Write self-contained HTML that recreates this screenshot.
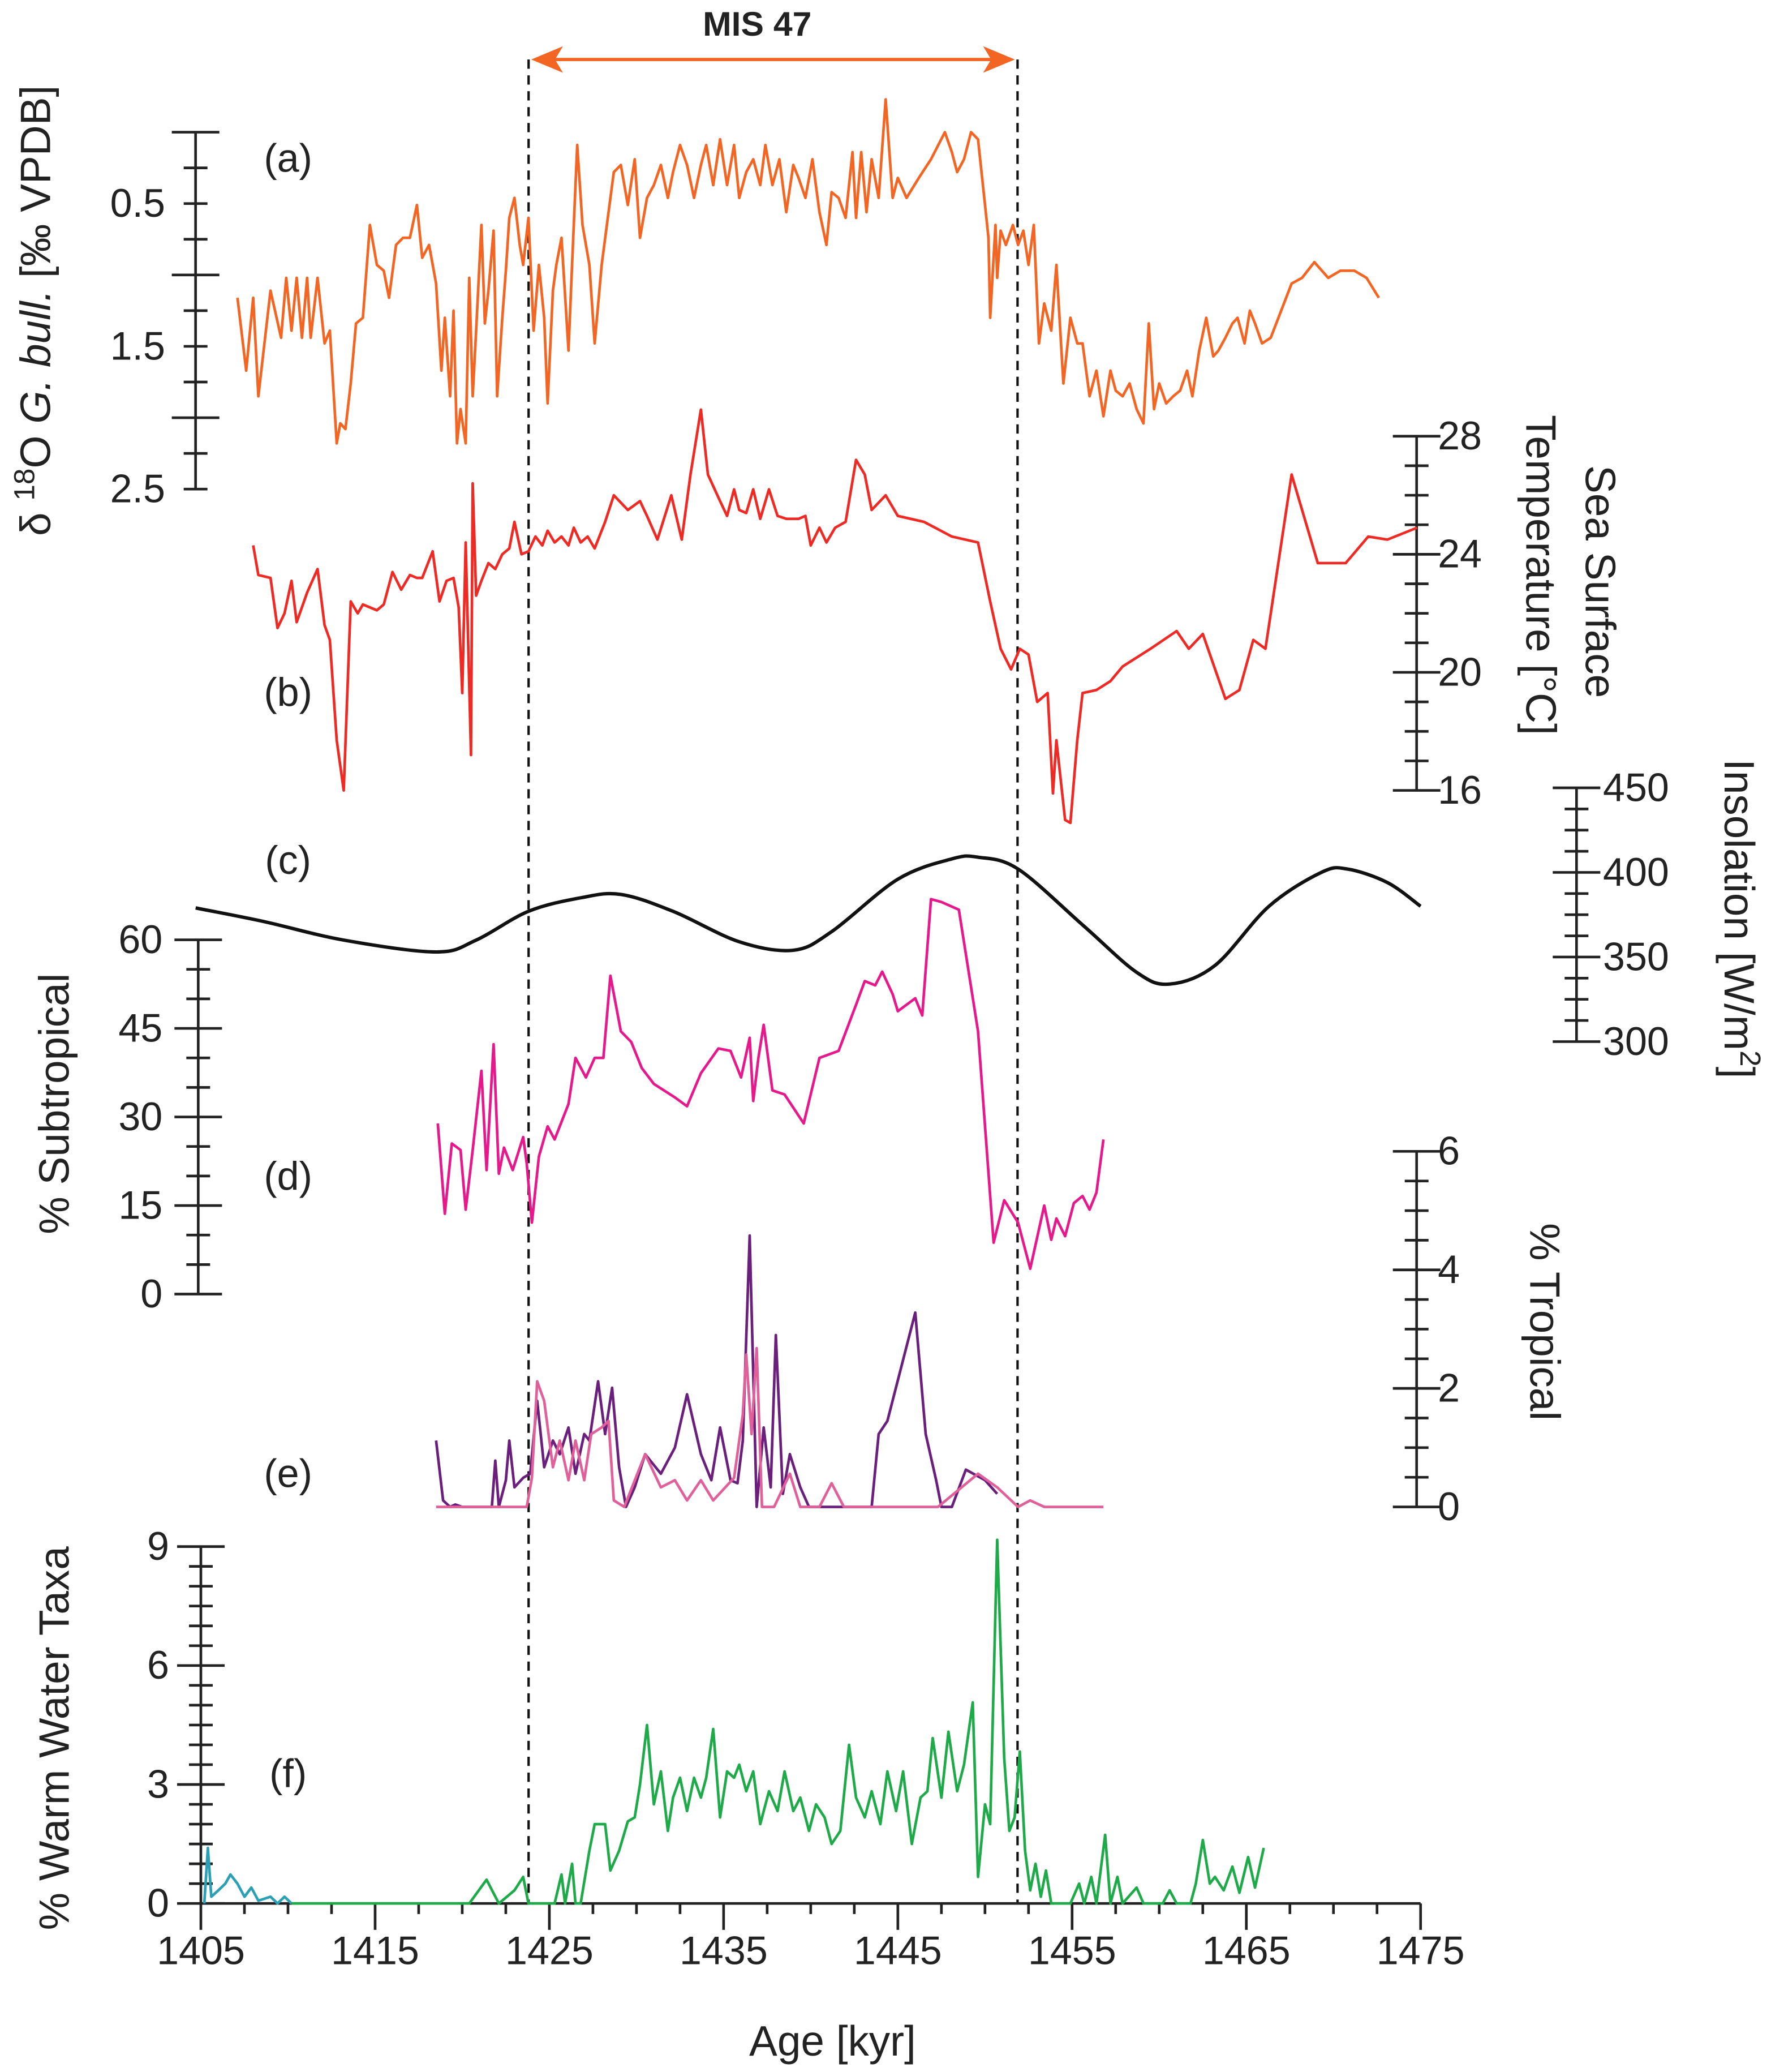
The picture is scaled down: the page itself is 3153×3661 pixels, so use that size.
<!DOCTYPE html>
<html><head><meta charset="utf-8"><style>
html,body{margin:0;padding:0;background:#fff}
svg{display:block}
text{font-family:"Liberation Sans",sans-serif;fill:#222}
</style></head><body>
<svg id="chart" width="3153" height="3661" viewBox="0 0 1350 1567.5" xmlns="http://www.w3.org/2000/svg">
<g id="g"></g>
</svg>
<script>
// ---- Data ----
const d18oAge=[1407.1,1407.6,1408.0,1408.3,1409.0,1409.6,1409.9,1410.2,1410.5,1410.8,1411.1,1411.3,1411.7,1412.1,1412.4,1412.8,1413.0,1413.3,1413.6,1413.9,1414.3,1414.7,1415.1,1415.5,1415.8,1416.2,1416.6,1417.0,1417.4,1417.7,1418.1,1418.5,1418.8,1419.0,1419.3,1419.5,1419.7,1419.9,1420.2,1420.4,1420.6,1420.8,1421.1,1421.3,1421.5,1421.8,1422.0,1422.3,1422.5,1422.7,1423.0,1423.3,1423.5,1423.8,1424.1,1424.4,1424.7,1424.9,1425.2,1425.4,1425.7,1426.1,1426.3,1426.6,1426.9,1427.3,1427.6,1428.0,1428.4,1428.7,1429.1,1429.5,1429.9,1430.2,1430.6,1431.0,1431.4,1431.8,1432.1,1432.5,1432.9,1433.3,1433.7,1434.0,1434.4,1434.8,1435.2,1435.6,1435.9,1436.3,1436.7,1437.1,1437.4,1437.8,1438.2,1438.6,1439.0,1439.3,1439.7,1440.1,1440.5,1440.9,1441.2,1441.6,1442.0,1442.4,1442.6,1442.9,1443.2,1443.5,1443.9,1444.3,1444.7,1445.0,1445.5,1446.2,1446.9,1447.7,1448.1,1448.4,1448.8,1449.2,1449.6,1450.0,1450.2,1450.3,1450.6,1450.7,1450.9,1451.2,1451.6,1451.9,1452.2,1452.5,1452.8,1453.1,1453.4,1453.8,1454.1,1454.5,1454.9,1455.3,1455.6,1456.0,1456.4,1456.8,1457.2,1457.5,1457.9,1458.3,1458.7,1459.1,1459.4,1459.7,1460.0,1460.4,1460.8,1461.2,1461.6,1461.9,1462.3,1462.7,1463.1,1463.4,1463.8,1464.2,1464.5,1464.9,1465.2,1465.5,1465.9,1466.4,1467.0,1467.6,1468.2,1468.9,1469.7,1470.4,1471.2,1471.9,1472.6];
const d18oVal=[1.16,1.67,1.16,1.85,1.11,1.44,1.02,1.39,1.02,1.44,1.02,1.44,1.02,1.48,1.39,2.18,2.04,2.08,1.76,1.34,1.30,0.65,0.93,0.97,1.16,0.79,0.74,0.74,0.51,0.88,0.79,1.06,1.67,1.30,1.85,1.25,2.18,1.94,2.18,1.02,1.85,1.39,0.65,1.34,1.11,0.69,1.85,1.30,0.97,0.60,0.46,0.79,0.93,0.60,1.39,0.93,1.30,1.90,1.11,0.93,0.74,1.53,0.93,0.09,0.65,0.93,1.48,0.93,0.56,0.28,0.23,0.51,0.19,0.74,0.46,0.37,0.23,0.46,0.28,0.09,0.23,0.46,0.23,0.09,0.37,0.05,0.37,0.09,0.46,0.28,0.19,0.37,0.09,0.37,0.19,0.56,0.23,0.32,0.46,0.19,0.56,0.79,0.42,0.46,0.60,0.14,0.60,0.14,0.56,0.19,0.46,-0.23,0.46,0.32,0.46,0.32,0.19,0.00,0.14,0.28,0.19,0.00,0.05,0.51,0.74,1.30,0.65,1.02,0.69,0.79,0.65,0.79,0.69,0.93,0.65,1.48,1.20,1.39,0.93,1.76,1.30,1.48,1.48,1.85,1.67,1.99,1.67,1.81,1.85,1.76,1.94,2.04,1.34,1.94,1.76,1.90,1.85,1.81,1.67,1.85,1.53,1.30,1.57,1.53,1.44,1.34,1.30,1.48,1.25,1.34,1.48,1.44,1.25,1.06,1.02,0.91,1.02,0.97,0.97,1.02,1.16];
const sstAge=[1408.0,1408.3,1409.0,1409.4,1409.8,1410.2,1410.5,1411.1,1411.7,1412.1,1412.4,1412.8,1413.2,1413.6,1414.0,1414.3,1415.1,1415.5,1416.0,1416.5,1417.0,1417.4,1417.7,1418.3,1418.7,1419.1,1419.5,1419.8,1420.0,1420.2,1420.5,1420.6,1420.8,1421.1,1421.5,1421.9,1422.3,1422.7,1423.0,1423.4,1423.8,1424.2,1424.6,1424.9,1425.3,1425.7,1426.1,1426.4,1426.8,1427.2,1427.6,1428.2,1428.7,1429.5,1430.2,1430.6,1431.2,1432.0,1432.6,1433.1,1433.7,1434.1,1434.8,1435.2,1435.6,1435.9,1436.3,1436.7,1437.1,1437.6,1438.1,1438.6,1439.3,1439.7,1440.0,1440.5,1440.9,1441.4,1442.0,1442.6,1443.1,1443.5,1444.3,1445.0,1446.5,1448.1,1449.6,1450.3,1450.9,1451.5,1452.0,1452.5,1453.0,1453.6,1453.9,1454.1,1454.6,1454.9,1455.3,1455.6,1456.4,1457.2,1457.9,1459.5,1461.0,1461.7,1462.5,1463.8,1464.6,1465.4,1466.1,1467.6,1469.1,1470.7,1472.0,1473.1,1474.8];
const sstVal=[24.3,23.3,23.2,21.5,22.0,23.1,21.7,22.7,23.5,21.6,21.1,17.7,16.0,22.4,22.0,22.3,22.1,22.3,23.4,22.8,23.3,23.2,23.2,24.1,22.4,23.1,23.2,22.2,19.3,24.4,17.2,26.4,22.6,23.1,23.7,23.5,24.0,24.2,25.1,24.0,24.1,24.6,24.3,24.8,24.4,24.6,24.3,24.9,24.4,24.6,24.2,25.1,26.0,25.5,25.8,25.3,24.5,26.0,24.5,26.7,28.9,26.7,25.8,25.3,26.2,25.5,25.4,26.2,25.2,26.2,25.3,25.2,25.2,25.3,24.3,24.9,24.4,24.9,25.1,27.2,26.7,25.5,26.0,25.3,25.1,24.6,24.4,22.4,20.8,20.1,20.8,20.6,19.0,19.3,15.9,17.7,15.0,14.9,17.7,19.3,19.4,19.7,20.2,20.8,21.4,20.8,21.3,19.1,19.4,21.1,20.8,26.7,23.7,23.7,24.6,24.5,24.9];
const insAge=[1404.7,1408.6,1413.2,1418.5,1420.8,1423.8,1426.8,1429.1,1432.1,1435.9,1439.0,1441.2,1445.0,1448.1,1449.6,1451.9,1455.6,1458.7,1460.6,1463.2,1466.3,1469.3,1470.8,1473.1,1475.0];
const insVal=[379,371,360,353,360,377,385,387,377,359,354,365,396,408,409,402,369,341,334,345,380,400,402,394,380];
const subAge=[1418.6,1419.0,1419.4,1419.9,1420.2,1420.6,1421.1,1421.4,1421.8,1422.1,1422.4,1422.9,1423.5,1423.7,1424.0,1424.4,1424.9,1425.3,1426.1,1426.5,1427.1,1427.6,1428.1,1428.5,1429.1,1429.7,1430.3,1431.0,1432.2,1432.9,1433.7,1434.7,1435.4,1436.0,1436.5,1436.7,1437.0,1437.3,1437.8,1438.5,1439.6,1440.5,1441.6,1442.6,1443.1,1443.7,1444.1,1444.7,1445.0,1446.0,1446.4,1446.9,1447.5,1448.5,1449.6,1450.5,1451.1,1451.9,1452.6,1453.4,1453.8,1454.1,1454.6,1455.1,1455.6,1456.0,1456.4,1456.8];
const subVal=[28.9,13.6,25.5,24.4,14.3,24.4,37.8,21.0,42.3,20.4,24.8,21.0,26.6,22.1,12.1,23.3,28.4,26.2,32.2,40.0,36.7,40.0,40.0,53.9,44.5,42.7,38.3,35.6,33.3,31.8,37.4,41.6,41.2,36.7,43.4,32.7,40.0,45.6,34.5,33.8,28.9,40.0,41.2,49.0,53.0,52.3,54.6,50.8,47.9,50.1,47.2,66.9,66.4,65.1,44.5,8.7,15.9,12.1,4.3,15.0,9.2,12.8,9.8,15.4,16.6,14.3,17.2,26.2];
const tropAAge=[1418.5,1418.9,1419.3,1419.6,1420.0,1421.7,1421.9,1422.1,1422.5,1422.7,1423.0,1423.5,1423.9,1424.3,1424.7,1425.2,1425.6,1426.1,1426.5,1427.0,1427.3,1427.8,1428.2,1428.6,1429.0,1429.4,1429.9,1430.5,1431.4,1432.2,1432.9,1433.7,1434.3,1434.8,1435.4,1435.8,1436.1,1436.5,1436.9,1437.3,1437.7,1438.0,1438.4,1438.8,1439.4,1439.9,1443.5,1443.9,1444.4,1446.0,1446.6,1447.2,1447.5,1448.1,1448.9,1450.0,1450.7];
const tropAVal=[1.12,0.11,0,0.04,0,0,0.78,0,0.45,1.12,0.33,0.49,0.56,1.79,0.67,1.12,0.89,1.34,0.56,1.23,1.12,2.12,1.23,2.01,0.67,0,0.33,0.89,0.56,1.0,1.9,0.89,0.45,1.34,0.45,0.40,1.12,4.58,0,1.34,0.33,2.9,0.22,0.89,0.33,0,0,1.23,1.45,3.28,1.23,0.45,0,0,0.63,0.45,0.22];
const tropBAge=[1418.5,1423.7,1424.0,1424.3,1424.7,1425.2,1425.6,1426.1,1426.5,1427.0,1427.4,1428.0,1428.4,1428.7,1429.3,1430.5,1431.4,1432.2,1432.9,1433.7,1434.4,1435.6,1436.1,1436.3,1436.6,1436.9,1437.2,1437.9,1438.8,1439.4,1440.5,1441.2,1441.9,1447.3,1449.6,1450.7,1451.9,1452.6,1453.4,1456.8];
const tropBVal=[0,0,0.49,2.12,1.79,0.67,1.12,0.45,1.12,0.45,1.23,1.34,1.45,0.11,0,0.89,0.33,0.45,0.11,0.45,0.11,0.49,1.56,2.57,1.23,2.68,0,0,0.56,0,0,0.40,0,0,0.56,0.33,0,0.11,0,0];
const wwTealAge=[1405.2,1405.4,1405.6,1406.0,1406.4,1406.7,1407.1,1407.5,1407.9,1408.3,1409.0,1409.4,1409.8,1410.2];
const wwTealVal=[0,1.4,0.17,0.33,0.5,0.73,0.5,0.17,0.4,0.07,0.17,0,0.17,0];
const wwAge=[1410.2,1420.4,1421.4,1422.1,1423.0,1423.5,1423.8,1425.3,1425.7,1425.9,1426.3,1426.5,1426.8,1427.3,1427.6,1428.2,1428.5,1429.0,1429.5,1429.9,1430.2,1430.6,1431.0,1431.4,1431.8,1432.1,1432.5,1432.9,1433.3,1433.7,1434.0,1434.4,1434.8,1435.2,1435.6,1435.9,1436.3,1436.7,1437.1,1437.6,1438.1,1438.5,1439.0,1439.4,1439.9,1440.3,1440.8,1441.2,1441.7,1442.2,1442.6,1443.1,1443.5,1444.0,1444.4,1444.9,1445.3,1445.8,1446.3,1446.7,1447.0,1447.5,1447.9,1448.4,1448.8,1449.3,1449.6,1450.0,1450.3,1450.7,1451.1,1451.4,1451.7,1452.0,1452.3,1452.6,1452.9,1453.2,1453.5,1453.8,1454.9,1455.4,1455.7,1456.1,1456.4,1456.9,1457.2,1457.6,1457.9,1458.7,1459.1,1460.2,1460.6,1461.0,1461.8,1462.1,1462.5,1462.9,1463.2,1463.7,1464.2,1464.6,1465.1,1465.5,1466.0];
const wwVal=[0,0,0.6,0,0.33,0.67,0,0,0.73,0,1.0,0,0,1.33,2.0,2.0,0.83,1.33,2.07,2.17,3.0,4.5,2.5,3.33,1.83,2.67,3.17,2.33,3.17,2.67,3.17,4.4,2.17,3.33,3.17,3.5,2.83,3.33,2.0,2.83,2.33,3.33,2.33,2.67,1.83,2.5,2.17,1.5,1.83,4.0,2.67,2.17,2.83,2.0,3.33,2.33,3.33,1.5,2.67,2.83,4.17,2.67,4.33,2.83,3.5,5.07,0.67,2.5,2.0,9.17,3.67,1.83,2.17,3.83,1.33,0.33,1.0,0.17,0.83,0,0,0.5,0,0.67,0,1.73,0,0.67,0,0.4,0,0,0.33,0,0,0.5,1.6,0.5,0.67,0.33,0.93,0.27,1.17,0.4,1.4];
const xTicks=[1405,1415,1425,1435,1445,1455,1465,1475];

// ---- Scales ----
const X=a=>152+(a-1405)*(923/70);
const Ya=v=>100+v*108;
const Yb=t=>330+(28-t)*22.33;
const Yc=w=>596+(450-w)*1.28;
const Yd=p=>979-p*4.467;
const Ye=p=>1140-p*44.83;
const Yf=p=>1440-p*30;

const NS="http://www.w3.org/2000/svg";
const G=document.getElementById('g');
function mk(tag,attrs,name,inter){const e=document.createElementNS(NS,tag);for(const k in attrs)e.setAttribute(k,attrs[k]);


G.appendChild(e);return e;}
function txt(x,y,s,name,opt){opt=opt||{};const e=mk('text',{x:x,y:y,'font-size':opt.size||30,'text-anchor':opt.anchor||'middle'},name,false);
if(opt.rot)e.setAttribute('transform','rotate('+opt.rot+' '+x+' '+y+')');if(opt.weight)e.setAttribute('font-weight',opt.weight);e.textContent=s;return e;}
function series(ages,vals,ys,color,name,w){let d='';for(let i=0;i<ages.length;i++)d+=(i?'L':'M')+X(ages[i]).toFixed(1)+','+ys(vals[i]).toFixed(1);
mk('path',{d:d,fill:'none',stroke:color,'stroke-width':w||2,'stroke-linejoin':'round'},name,false);}
function smooth(ages,vals,ys,color,name){const p=ages.map((a,i)=>[X(a),ys(vals[i])]);let d='M'+p[0][0]+','+p[0][1];
for(let i=0;i<p.length-1;i++){const p0=p[i-1]||p[i],p1=p[i],p2=p[i+1],p3=p[i+2]||p2;
d+='C'+(p1[0]+(p2[0]-p0[0])/6)+','+(p1[1]+(p2[1]-p0[1])/6)+' '+(p2[0]-(p3[0]-p1[0])/6)+','+(p2[1]-(p3[1]-p1[1])/6)+' '+p2[0]+','+p2[1];}
mk('path',{d:d,fill:'none',stroke:color,'stroke-width':2.6},name,false);}
function vaxis(x,ys,lo,hi,minor,major,labels,side,name,lx){
mk('line',{x1:x,x2:x,y1:ys(lo),y2:ys(hi),stroke:'#222','stroke-width':2},name+'-line',false);
for(let v=lo;v<=hi+1e-9;v+=minor){const isM=Math.abs(v/major-Math.round(v/major))<1e-6;const L=isM?18:9;const y=ys(v);
mk('line',{x1:x-L,x2:x+L,y1:y,y2:y,stroke:'#222','stroke-width':2},name+'-tick',false);}
labels.forEach(v=>txt(lx,ys(v)+10,String(v),name+'-label',{anchor:side==='right'?'start':'end'}));}

// dashed MIS lines
mk('line',{x1:400,x2:400,y1:45,y2:1440,stroke:'#111','stroke-width':1.8,'stroke-dasharray':'7,5'},'mis-boundary-left',false);
mk('line',{x1:770,x2:770,y1:45,y2:1440,stroke:'#111','stroke-width':1.8,'stroke-dasharray':'7,5'},'mis-boundary-right',false);
mk('line',{x1:415,x2:755,y1:45,y2:45,stroke:'#f26522','stroke-width':2.5},'mis-arrow',false);
mk('path',{d:'M402,45 L426,35 L420,45 L426,55 Z',fill:'#f26522'},'mis-arrowhead-left',false);
mk('path',{d:'M768,45 L744,35 L750,45 L744,55 Z',fill:'#f26522'},'mis-arrowhead-right',false);
txt(573,27,'MIS 47','mis-47-label',{size:26,weight:'bold'});

// axes
vaxis(148,Ya,0,2.5,0.25,1,[],'left','d18o-axis',125);
[0.5,1.5,2.5].forEach(v=>txt(125,Ya(v)+10,v.toFixed(1),'d18o-tick-label',{anchor:'end'}));
vaxis(1072,Yb,16,28,1,4,[28,24,20,16],'right','sst-axis',1088);
vaxis(1193,Yc,300,450,12.5,50,[450,400,350,300],'right','insolation-axis',1213);
vaxis(150,Yd,0,60,5,15,[60,45,30,15,0],'left','subtropical-axis',123);
vaxis(1072,Ye,0,6,0.5,2,[6,4,2,0],'right','tropical-axis',1088);
vaxis(152,Yf,0,9,0.5,3,[9,6,3,0],'left','warm-water-axis',128);
// x axis
mk('line',{x1:152,x2:1075,y1:1440,y2:1440,stroke:'#222','stroke-width':2},'x-axis-line',false);
for(let a=1405;a<=1475;a+=2.5){const m=(a-1405)%10===0;mk('line',{x1:X(a),x2:X(a),y1:1440,y2:1440+(m?20:8),stroke:'#222','stroke-width':2},'x-tick',false);}
xTicks.forEach(a=>txt(X(a),1486,String(a),'x-tick-label',{}));
txt(630,1555,'Age [kyr]','x-axis-title',{size:32});

// titles
const t1=txt(38,235,'','d18o-axis-title',{size:32,rot:-90});
t1.innerHTML='δ <tspan dy="-12" font-size="22">18</tspan><tspan dy="12">O </tspan><tspan font-style="italic">G. bull.</tspan> [‰ VPDB]';
txt(52,835,'% Subtropical','subtropical-axis-title',{size:32,rot:-90});
txt(52,1315,'% Warm Water Taxa','warm-water-axis-title',{size:32,rot:-90});
txt(1200,440,'Sea Surface','sst-axis-title-1',{size:32,rot:90});
txt(1155,435,'Temperature [°C]','sst-axis-title-2',{size:32,rot:90});
const t2=txt(1305,695,'','insolation-axis-title',{size:32,rot:90});
t2.innerHTML='Insolation [W/m<tspan dy="-12" font-size="22">2</tspan><tspan dy="12">]</tspan>';
txt(1158,1000,'% Tropical','tropical-axis-title',{size:32,rot:90});
[['(a)',130],['(b)',534],['(c)',661],['(d)',900],['(e)',1125],['(f)',1352]].forEach(p=>txt(218,p[1],p[0],'panel-label',{size:30}));

// series
series(d18oAge,d18oVal,Ya,'#f26522','d18o-series');
series(sstAge,sstVal,Yb,'#ee2a24','sst-series');
smooth(insAge,insVal,Yc,'#111','insolation-series');
series(subAge,subVal,Yd,'#e6198c','subtropical-series');
series(tropAAge,tropAVal,Ye,'#6b1f7c','tropical-series-a');
series(tropBAge,tropBVal,Ye,'#e0609a','tropical-series-b');
series(wwTealAge,wwTealVal,Yf,'#2a9fb5','warm-water-early-series');
series(wwAge,wwVal,Yf,'#1faa4a','warm-water-series');
</script>
</body></html>
